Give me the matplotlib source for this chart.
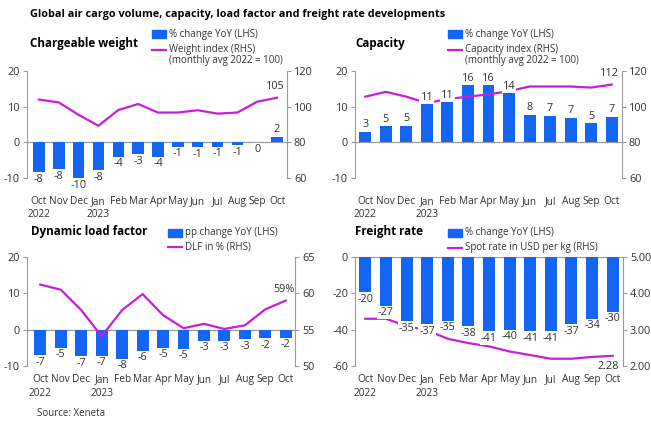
import numpy as np
import matplotlib
matplotlib.use("Agg")
import matplotlib.pyplot as plt
from matplotlib.patches import Rectangle
from matplotlib.lines import Line2D

plt.rcParams['font.family'] = ['Open Sans', 'DejaVu Sans']
plt.rcParams['axes.unicode_minus'] = False

months = ["Oct\n2022", "Nov", "Dec", "Jan\n2023", "Feb", "Mar", "Apr",
          "May", "Jun", "Jul", "Aug", "Sep", "Oct"]

# chargeable weight
cw_yoy = [-8.3, -7.6, -10.1, -7.8, -4.0, -3.3, -4.0, -1.2, -1.3, -1.2, -0.8, 0.0, 1.5]
cw_yoy_lbl = ["-8", "-8", "-10", "-8", "-4", "-3", "-4", "-1", "-1", "-1", "-1", "0", "2"]
cw_idx = [104.0, 102.4, 95.4, 89.3, 98.1, 101.5, 96.7, 96.7, 98.0, 96.1, 96.7, 102.8, 105.0]

# capacity
cap_yoy = [2.9, 4.5, 4.7, 10.7, 11.2, 16.0, 16.0, 13.8, 7.7, 7.5, 6.8, 5.3, 7.2]
cap_yoy_lbl = ["3", "5", "5", "11", "11", "16", "16", "14", "8", "7", "7", "5", "7"]
cap_idx = [105.6, 108.3, 105.6, 102.0, 104.3, 105.6, 106.9, 108.7, 111.3, 111.3, 111.3, 110.7, 112.4]

# dynamic load factor
dlf_pp = [-7.1, -5.0, -7.3, -7.2, -8.0, -5.8, -5.0, -5.2, -3.0, -3.0, -2.6, -2.4, -2.2]
dlf_pp_lbl = ["-7", "-5", "-7", "-7", "-8", "-6", "-5", "-5", "-3", "-3", "-3", "-2", "-2"]
dlf = [61.2, 60.5, 57.7, 54.1, 57.7, 59.9, 57.0, 55.2, 55.8, 55.1, 55.6, 57.8, 59.0]

# freight rate
fr_yoy = [-19.5, -26.8, -35.2, -37.0, -35.0, -38.0, -41.0, -40.0, -41.0, -41.0, -37.0, -34.0, -30.0]
fr_yoy_lbl = ["-20", "-27", "-35", "-37", "-35", "-38", "-41", "-40", "-41", "-41", "-37", "-34", "-30"]
spot = [3.30, 3.30, 3.10, 2.98, 2.75, 2.63, 2.54, 2.40, 2.30, 2.20, 2.20, 2.25, 2.28]

BLUE = "#1565f5"
MAG = "#c81ed8"
GREY = "#9a9a9a"
TXT = "#333333"
FS = 7.8
XFS = 7.3

W, H = 651, 421
fig = plt.figure(figsize=(W / 100, H / 100), dpi=100)


def box(x0, y0, x1, y1):
    # pixel box -> figure fraction rect
    return [x0 / W, 1 - y1 / H, (x1 - x0) / W, (y1 - y0) / H]


def panel(rect, bars, labels, line, ylim, yticks, y2lim, y2ticks, xlim,
          xpad, y2fmt=None, endlbl=None, endpos="above"):
    ax = fig.add_axes(box(*rect))
    x = np.arange(len(bars))
    ax.bar(x, bars, width=0.58, color=BLUE, zorder=2)
    ax.axhline(0, color=GREY, lw=0.9, zorder=1)
    ax.set_xlim(*xlim)
    ax.set_ylim(*ylim)
    ax.set_yticks(yticks)
    ax.set_xticks(x)
    ax.set_xticklabels(months, fontsize=XFS, color=TXT, linespacing=1.3)
    ax.tick_params(axis="x", length=0, pad=xpad)
    ax.tick_params(axis="y", direction="out", length=3, width=0.8,
                   color=GREY, labelsize=FS, labelcolor=TXT, pad=2)
    for s in ["top", "right", "bottom"]:
        ax.spines[s].set_visible(False)
    ax.spines["left"].set_color(GREY)
    ax.spines["left"].set_linewidth(0.8)

    ax2 = ax.twinx()
    ax2.plot(x, line, color=MAG, lw=1.6, zorder=3)
    ax2.set_ylim(*y2lim)
    ax2.set_yticks(y2ticks)
    if y2fmt:
        ax2.set_yticklabels([y2fmt.format(v) for v in y2ticks])
    ax2.tick_params(axis="y", direction="out", length=3, width=0.8,
                    color=GREY, labelsize=FS, labelcolor=TXT, pad=2)
    for s in ["top", "left", "bottom"]:
        ax2.spines[s].set_visible(False)
    ax2.spines["right"].set_color(GREY)
    ax2.spines["right"].set_linewidth(0.8)

    # bar labels on top of the line, with white backing
    span = ylim[1] - ylim[0]
    bb = dict(boxstyle="square,pad=0.1", fc="white", ec="none")
    for xi, v, t in zip(x, bars, labels):
        if v > 0:
            ax2.text(xi, v + span * 0.015, t, ha="center", va="bottom",
                     fontsize=FS, color=TXT, transform=ax.transData,
                     bbox=bb, zorder=5)
        else:
            ax2.text(xi, v - span * 0.015, t, ha="center", va="top",
                     fontsize=FS, color=TXT, transform=ax.transData,
                     bbox=bb, zorder=5)

    if endlbl:
        s2 = y2lim[1] - y2lim[0]
        if endpos == "above":
            ax2.text(x[-1] - 0.1, line[-1] + s2 * 0.05, endlbl, ha="center",
                     va="bottom", fontsize=FS, color=TXT)
        else:
            ax2.text(x[-1] + 0.3, line[-1] - s2 * 0.05, endlbl, ha="right",
                     va="top", fontsize=FS, color=TXT)
    return ax, ax2


def legend(x, entries):
    # entries: list of (kind, text, pixel y)
    for kind, text, yy in entries:
        if kind == "bar":
            fig.add_artist(Rectangle((x / W, 1 - (yy + 4) / H), 14 / W, 8 / H,
                                     transform=fig.transFigure, color=BLUE))
        elif kind == "line":
            fig.add_artist(Line2D([x / W, (x + 14) / W], [1 - yy / H] * 2,
                                  transform=fig.transFigure, color=MAG, lw=1.6))
        fig.text((x + 17) / W, 1 - yy / H, text, ha="left", va="center",
                 fontsize=7.0, color=TXT)


fig.text(30 / W, 1 - 15 / H,
         "Global air cargo volume, capacity, load factor and freight rate developments",
         fontsize=7.8, fontweight="bold", va="center", ha="left")

# Chargeable weight
panel((27, 71, 287, 178), cw_yoy, cw_yoy_lbl, cw_idx, (-10, 20), [-10, 0, 10, 20],
      (60, 120), [60, 80, 100, 120], (-0.6, 12.5), 13, endlbl="105")
fig.text(30 / W, 1 - 44 / H, "Chargeable weight", fontsize=8.4, fontweight="bold",
         va="center")
legend(152, [("bar", "% change YoY (LHS)", 34), ("line", "Weight index (RHS)", 49.5),
             (None, "(monthly avg 2022 = 100)", 61)])

# Capacity
panel((355, 71, 622, 178), cap_yoy, cap_yoy_lbl, cap_idx, (-10, 20), [-10, 0, 10, 20],
      (60, 120), [60, 80, 100, 120], (-0.5, 12.5), 13, endlbl="112")
fig.text(355 / W, 1 - 44 / H, "Capacity", fontsize=8.4, fontweight="bold",
         va="center")
legend(448, [("bar", "% change YoY (LHS)", 34), ("line", "Capacity index (RHS)", 49.5),
             (None, "(monthly avg 2022 = 100)", 61)])

# Dynamic load factor
panel((27, 257, 295, 366), dlf_pp, dlf_pp_lbl, dlf, (-10, 20), [-10, 0, 10, 20],
      (50, 65), [50, 55, 60, 65], (-0.65, 12.45), 6, endlbl="59%")
fig.text(31 / W, 1 - 232 / H, "Dynamic load factor", fontsize=8.4, fontweight="bold",
         va="center")
legend(168, [("bar", "pp change YoY (LHS)", 233), ("line", "DLF in % (RHS)", 247.5)])

# Freight rate
panel((355, 257, 623, 366), fr_yoy, fr_yoy_lbl, spot, (-60, 0), [-60, -40, -20, 0],
      (2.0, 5.0), [2.0, 3.0, 4.0, 5.0], (-0.5, 12.5), 6, y2fmt="{:.2f}",
      endlbl="2.28", endpos="below")
fig.text(355 / W, 1 - 232 / H, "Freight rate", fontsize=8.4, fontweight="bold",
         va="center")
legend(448, [("bar", "% change YoY (LHS)", 233),
             ("line", "Spot rate in USD per kg (RHS)", 248)])

fig.text(37 / W, 1 - 413 / H, "Source: Xeneta", fontsize=7.0, color=TXT, va="center")

fig.savefig("out.png", dpi=100)
